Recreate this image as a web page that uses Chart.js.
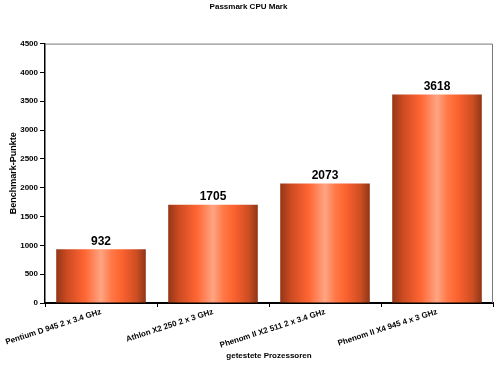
<!DOCTYPE html>
<html>
<head>
<meta charset="utf-8">
<script src="https://cdn.jsdelivr.net/npm/chart.js@4"></script>
<style>
    html, body { margin: 0; padding: 0; background: #fff; }
    #wrap { width: 500px; height: 368px; }
</style>
</head>
<body>
<div id="wrap"><canvas id="cpuChart" width="500" height="368"></canvas></div>
<script>
// Chart data
const processors = [
    'Pentium D 945 2 x 3.4 GHz',
    'Athlon X2 250 2 x 3 GHz',
    'Phenom II X2 511 2 x 3.4 GHz',
    'Phenom II X4 945 4 x 3 GHz'
];
const passmarkScores = [932, 1705, 2073, 3618];
const yTicks = [0, 500, 1000, 1500, 2000, 2500, 3000, 3500, 4000, 4500];

const FONT = '"Liberation Sans", Arial, sans-serif';
const BAR_PCT = 0.8;

// Horizontal "cylinder" gradient for each bar, built from the x scale
function barGradient(context) {
    const chart = context.chart;
    const xScale = chart.scales.x;
    if (!xScale || !chart.chartArea) return '#f4602e';
    const step = xScale.getPixelForValue(1) - xScale.getPixelForValue(0);
    const cx = xScale.getPixelForValue(context.dataIndex);
    const half = step * BAR_PCT / 2;
    const g = chart.ctx.createLinearGradient(cx - half, 0, cx + half, 0);
    g.addColorStop(0.00, '#943719');
    g.addColorStop(0.12, '#cc4a21');
    g.addColorStop(0.32, '#ff6633');
    g.addColorStop(0.50, '#ffa482');
    g.addColorStop(0.62, '#ff7846');
    g.addColorStop(0.74, '#fb612e');
    g.addColorStop(0.90, '#cc4d23');
    g.addColorStop(1.00, '#8e3517');
    return g;
}

// Thin gray frame around plot area (top and right)
const framePlugin = {
    id: 'frame',
    beforeDatasetsDraw(chart) {
        const { ctx, chartArea: a } = chart;
        ctx.save();
        ctx.strokeStyle = '#777';
        ctx.lineWidth = 1;
        ctx.beginPath();
        ctx.moveTo(a.left, a.top + 0.5);
        ctx.lineTo(a.right - 0.5, a.top + 0.5);
        ctx.lineTo(a.right - 0.5, a.bottom);
        ctx.stroke();
        ctx.restore();
    }
};

// Value labels above bars
const valueLabels = {
    id: 'valueLabels',
    afterDatasetsDraw(chart) {
        const { ctx } = chart;
        const meta = chart.getDatasetMeta(0);
        ctx.save();
        ctx.font = 'bold 12px ' + FONT;
        ctx.fillStyle = '#000';
        ctx.textAlign = 'center';
        ctx.textBaseline = 'bottom';
        meta.data.forEach((bar, i) => {
            ctx.fillText(String(passmarkScores[i]), bar.x, bar.y - 2);
        });
        ctx.restore();
    }
};

const ctx = document.getElementById('cpuChart').getContext('2d');
const cpuChart = new Chart(ctx, {
    type: 'bar',
    data: {
        labels: processors,
        datasets: [
            {
                label: 'Passmark CPU Mark',
                data: passmarkScores,
                backgroundColor: barGradient,
                borderWidth: 0,
                barPercentage: BAR_PCT,
                categoryPercentage: 1.0,
            },
        ],
    },
    options: {
        responsive: false,
        animation: false,
        layout: { padding: { left: 4, right: 7, top: 0, bottom: 0 } },
        plugins: {
            legend: { display: false },
            tooltip: { enabled: false },
            title: {
                display: true,
                text: 'Passmark CPU Mark',
                color: '#000',
                font: { family: FONT, size: 8, weight: 'bold' },
                padding: { top: 2, bottom: 32 },
            },
        },
        scales: {
            x: {
                offset: true,
                grid: {
                    offset: true,
                    drawOnChartArea: false,
                    drawTicks: true,
                    tickLength: 4,
                    color: '#000',
                },
                border: { display: true, color: '#000', width: 2 },
                ticks: {
                    color: '#000',
                    font: { family: FONT, size: 8, weight: 'bold' },
                    minRotation: 18,
                    maxRotation: 18,
                    padding: 0,
                },
                title: {
                    display: true,
                    text: 'getestete Prozessoren',
                    color: '#000',
                    font: { family: FONT, size: 8, weight: 'bold' },
                    padding: { top: 0, bottom: 7 },
                },
                afterFit(scale) { scale.height = 65; },
            },
            y: {
                min: 0,
                max: 4500,
                afterBuildTicks(scale) {
                    scale.ticks = yTicks.map((v) => ({ value: v }));
                },
                grid: {
                    drawOnChartArea: false,
                    drawTicks: true,
                    tickLength: 5,
                    color: '#000',
                },
                border: { display: true, color: '#000', width: 1.5 },
                ticks: {
                    color: '#000',
                    font: { family: FONT, size: 8, weight: 'bold' },
                    padding: 2,
                    callback: (value) => String(value),
                },
                title: {
                    display: true,
                    text: 'Benchmark-Punkte',
                    color: '#000',
                    font: { family: FONT, size: 9, weight: 'bold' },
                    padding: { top: 4, bottom: 4 },
                },
                afterFit(scale) { scale.width = 41; },
            },
        },
    },
    plugins: [framePlugin, valueLabels],
});
</script>
</body>
</html>
